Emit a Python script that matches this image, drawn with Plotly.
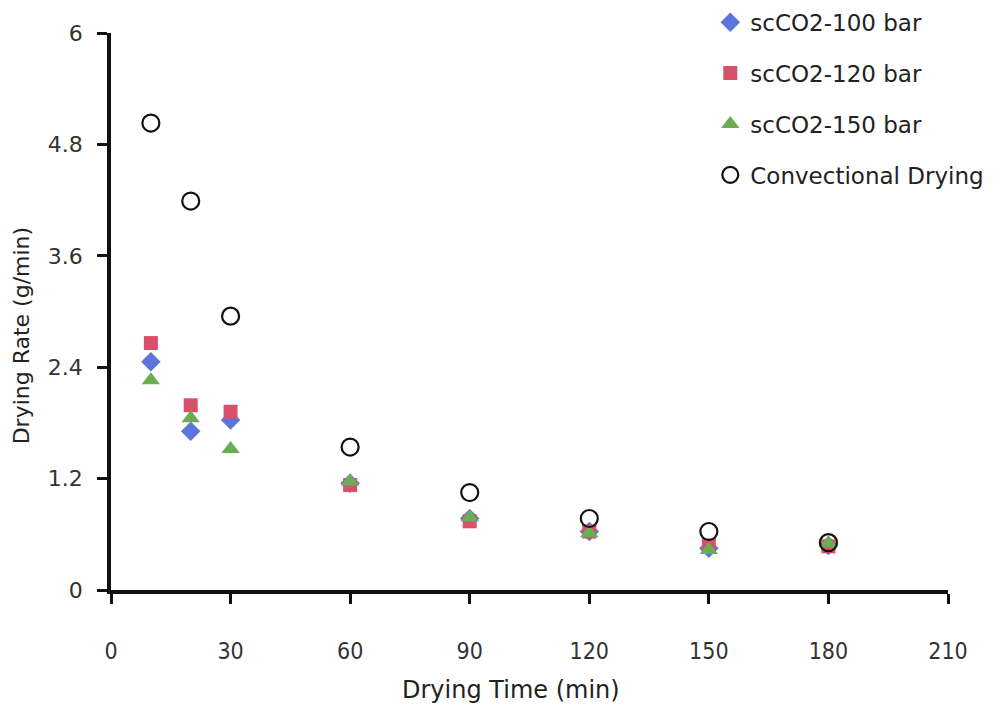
import plotly.graph_objects as go

# Drying time (min)
time_min = [10, 20, 30, 60, 90, 120, 150, 180]

# Drying rate (g/min) for each drying method
rate_100bar = [2.46, 1.71, 1.83, 1.15, 0.77, 0.63, 0.45, 0.48]
rate_120bar = [2.66, 1.99, 1.92, 1.13, 0.74, 0.63, 0.48, 0.47]
rate_150bar = [2.26, 1.85, 1.52, 1.17, 0.78, 0.61, 0.43, 0.50]
rate_convective = [5.03, 4.19, 2.95, 1.54, 1.05, 0.77, 0.63, 0.51]

series_names = ["scCO2-100 bar", "scCO2-120 bar", "scCO2-150 bar", "Convectional Drying"]

x_ticks = [0, 30, 60, 90, 120, 150, 180, 210]
y_ticks = [0, 1.2, 2.4, 3.6, 4.8, 6]
y_tick_text = ["0", "1.2", "2.4", "3.6", "4.8", "6"]

FONT = "DejaVu Sans"
NARROW = "DejaVu Sans Condensed, Liberation Sans Narrow, DejaVu Sans"

fig = go.Figure()

styles = [
    dict(symbol="diamond", color="#5b75dc", size=15, line=dict(width=0)),
    dict(symbol="square", color="#d9506b", size=14, line=dict(width=0)),
    dict(symbol="triangle-up", color="#6aad55", size=16, line=dict(width=0)),
    dict(symbol="circle-open", color="#111111", size=17, line=dict(width=2.2, color="#111111")),
]
all_rates = [rate_100bar, rate_120bar, rate_150bar, rate_convective]

for i, (name, rates, st) in enumerate(zip(series_names, all_rates, styles)):
    fig.add_trace(go.Scatter(
        x=time_min, y=rates, mode="markers", name=name,
        legendgroup=f"g{i}",
        marker=st,
    ))

fig.update_layout(
    width=1000, height=707,
    margin=dict(l=111, r=52, t=33, b=117, autoexpand=False),
    paper_bgcolor="white", plot_bgcolor="white",
    font=dict(family=FONT, size=19, color="#222222"),
    showlegend=True,
    legend=dict(
        x=0.716, y=1.058, xanchor="left", yanchor="top",
        font=dict(family=FONT, size=23, color="#222222"),
        tracegroupgap=18, bgcolor="rgba(0,0,0,0)",
    ),
    xaxis=dict(
        range=[0, 210], tickvals=x_ticks, showgrid=False, zeroline=False,
        showline=True, linecolor="#111111", linewidth=3.5,
        ticks="outside", ticklen=10, tickwidth=3, tickcolor="#111111",
        ticklabelstandoff=28,
        tickfont=dict(family=NARROW, size=23, color="#333333"),
    ),
    yaxis=dict(
        range=[0, 6], tickvals=y_ticks, ticktext=y_tick_text,
        showgrid=False, zeroline=False,
        showline=True, linecolor="#111111", linewidth=3.5,
        ticks="outside", ticklen=10, tickwidth=3, tickcolor="#111111",
        ticklabelstandoff=10,
        tickfont=dict(family=FONT, size=22, color="#333333"),
    ),
    annotations=[
        dict(text="Drying Time (min)", xref="paper", yref="paper",
             x=0.478, y=-0.18, xanchor="center", yanchor="middle",
             showarrow=False, font=dict(family=FONT, size=24, color="#222222")),
        dict(text="Drying Rate (g/min)", xref="paper", yref="paper",
             x=-0.107, y=0.458, xanchor="center", yanchor="middle", textangle=-90,
             showarrow=False, font=dict(family=FONT, size=22, color="#222222")),
    ],
)

fig.write_html("out.html")
